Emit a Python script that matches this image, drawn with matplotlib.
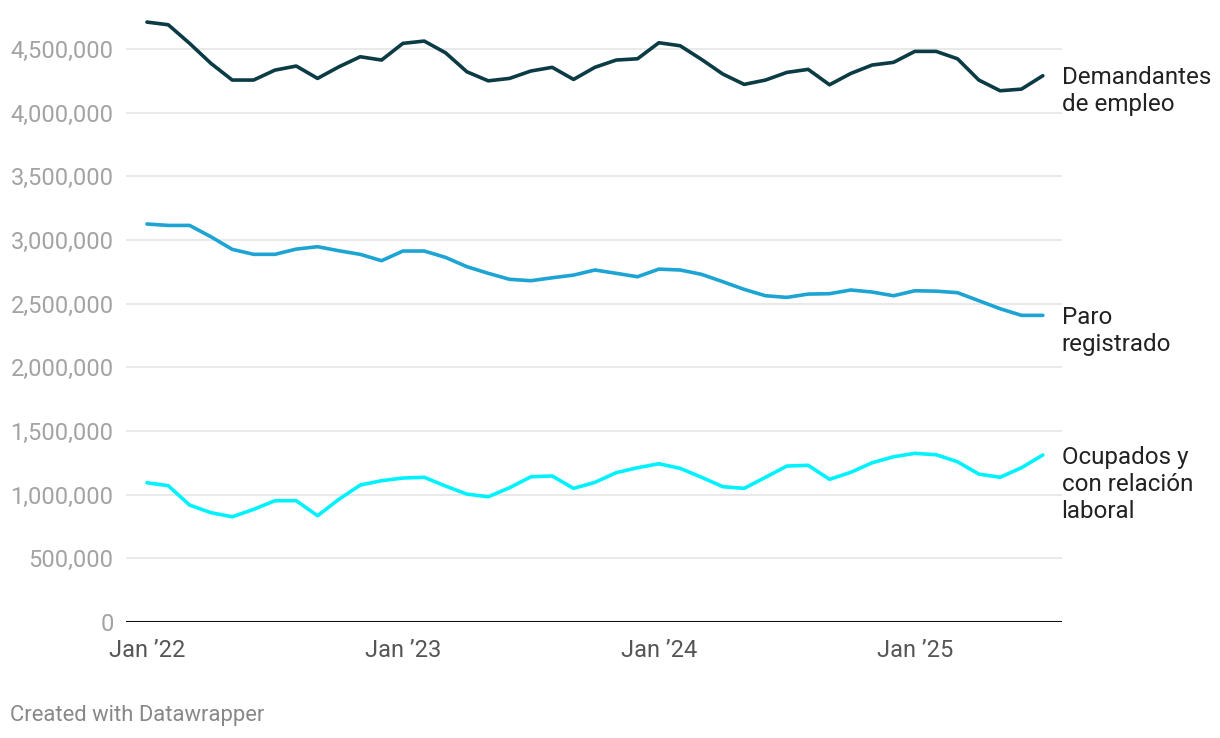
import numpy as np
import matplotlib
matplotlib.use('Agg')
import matplotlib.pyplot as plt
from matplotlib.ticker import FuncFormatter

plt.rcParams['font.family'] = ['Roboto', 'DejaVu Sans']

# DATA (monthly, Jan 2022 - Jul 2025)
months = [f'{m} {y}' for y in (2022, 2023, 2024, 2025)
          for m in ('Jan', 'Feb', 'Mar', 'Apr', 'May', 'Jun', 'Jul', 'Aug', 'Sep', 'Oct', 'Nov', 'Dec')][:43]

demandantes = [4710000, 4689000, 4543000, 4386000, 4255000, 4255000, 4333000, 4365000, 4268000, 4359000,
               4438000, 4412000, 4543000, 4561000, 4469000, 4320000, 4249000, 4268000, 4326000, 4355000,
               4260000, 4355000, 4412000, 4422000, 4548000, 4524000, 4417000, 4302000, 4221000, 4255000,
               4315000, 4339000, 4218000, 4307000, 4373000, 4394000, 4480000, 4480000, 4422000, 4255000,
               4171000, 4184000, 4289000]

paro = [3125000, 3114000, 3114000, 3025000, 2926000, 2887000, 2887000, 2928000, 2947000, 2915000,
        2887000, 2837000, 2913000, 2913000, 2863000, 2790000, 2738000, 2691000, 2680000, 2703000,
        2724000, 2764000, 2738000, 2711000, 2771000, 2764000, 2730000, 2672000, 2612000, 2562000,
        2549000, 2575000, 2578000, 2607000, 2591000, 2562000, 2601000, 2598000, 2586000, 2523000,
        2460000, 2408000, 2408000]

ocupados = [1094000, 1071000, 919000, 859000, 827000, 885000, 953000, 953000, 835000, 964000,
            1076000, 1110000, 1131000, 1137000, 1068000, 1005000, 984000, 1055000, 1141000, 1147000,
            1050000, 1097000, 1173000, 1212000, 1243000, 1207000, 1137000, 1063000, 1050000, 1137000,
            1225000, 1231000, 1121000, 1176000, 1251000, 1298000, 1325000, 1314000, 1259000, 1162000,
            1137000, 1212000, 1312000]

series_labels = [['Demandantes', 'de empleo'], ['Paro', 'registrado'], ['Ocupados y', 'con relación', 'laboral']]
series_colors = ['#0b3b44', '#1da4d3', '#00f2ff']

xtick_pos = [0, 12, 24, 36]
xtick_labels = ['Jan \u201922', 'Jan \u201923', 'Jan \u201924', 'Jan \u201925']
ytick_vals = np.arange(0, 4500001, 500000)

# PLOT
fig = plt.figure(figsize=(12.2, 7.38), dpi=100)
ax = fig.add_axes([0.1033, 0.157, 0.7672, 0.8286])

x = np.arange(len(months))
for vals, lines, col in zip([demandantes, paro, ocupados], series_labels, series_colors):
    ax.plot(x, vals, color=col, lw=2.6, solid_joinstyle='round', solid_capstyle='round', zorder=3)
    # one text per line so the first line sits on the last value
    for i, line in enumerate(lines):
        ax.annotate(line, xy=(x[-1], vals[-1]), xytext=(13.5, -6.2 - i * 19.5),
                    textcoords='offset points', ha='left', va='baseline',
                    fontsize=17.4, color='#222222', annotation_clip=False)

ax.set_xlim(-0.98, 42.9)
ax.set_ylim(0, 4800000)

ax.set_yticks(ytick_vals)
ax.yaxis.set_major_formatter(FuncFormatter(lambda v, p: f'{int(v):,}'))
ax.set_xticks(xtick_pos)
ax.set_xticklabels(xtick_labels)

ax.grid(axis='y', color='#e3e3e3', lw=1.1, zorder=0)
ax.axhline(0, color='#111111', lw=1.5, zorder=4)
ax.tick_params(axis='y', length=0, pad=9, labelsize=17, labelcolor='#a3a3a3')
ax.tick_params(axis='x', length=0, pad=12.5, labelsize=17, labelcolor='#555555')
for s in ax.spines.values():
    s.set_visible(False)

fig.text(10 / 1220, 17 / 738, 'Created with Datawrapper', fontsize=15.8, color='#888888',
         ha='left', va='baseline')

fig.savefig('out.png', dpi=100)
